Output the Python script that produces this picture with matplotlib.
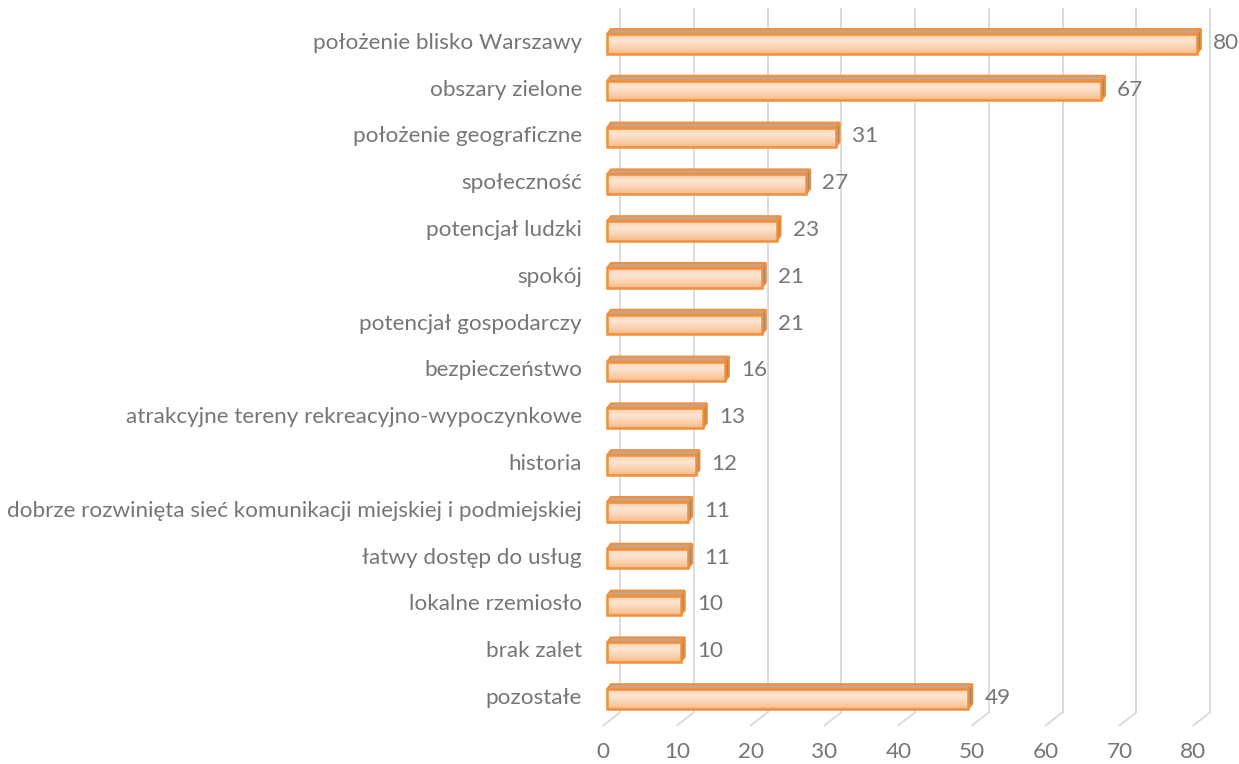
import numpy as np
import matplotlib.pyplot as plt
from matplotlib.patches import Polygon, Rectangle
from matplotlib.colors import LinearSegmentedColormap

plt.rcParams['font.family'] = ['Lato', 'DejaVu Sans']

# data
categories = [
    'położenie blisko Warszawy',
    'obszary zielone',
    'położenie geograficzne',
    'społeczność',
    'potencjał ludzki',
    'spokój',
    'potencjał gospodarczy',
    'bezpieczeństwo',
    'atrakcyjne tereny rekreacyjno-wypoczynkowe',
    'historia',
    'dobrze rozwinięta sieć komunikacji miejskiej i podmiejskiej',
    'łatwy dostęp do usług',
    'lokalne rzemiosło',
    'brak zalet',
    'pozostałe',
]
values = [80, 67, 31, 27, 23, 21, 21, 16, 13, 12, 11, 11, 10, 10, 49]
xticks = [0, 10, 20, 30, 40, 50, 60, 70, 80]

TEXT = '#767676'
EDGE = '#F0903A'
GRID = '#D9D9D9'
TOP = '#C9A288'
SIDE = '#8E8A86'
FS = 16.2

W, H = 1239, 764
fig = plt.figure(figsize=(W / 100, H / 100), dpi=100)
# axes: x=0..80 -> front plane of the bars, rows spaced evenly
ax = fig.add_axes([607 / W, 1 - 721.4 / H, 590 / W, 702 / H])
ax.axis('off')

# pixel -> data unit helpers for the 3D depth offsets
px_x = 80 / 590
px_y = 15 / 702
gdx = 13 * px_x                     # back wall
bdx, bdy = 4 * px_x, 5 * px_y       # bar depth
half = 9.8 * px_y

n = len(categories)
y_bot = n - 0.5 - 9 * px_y
y_top = -0.5 - 10 * px_y
for v in xticks:
    ax.plot([v + gdx, v + gdx], [y_top, y_bot], color=GRID, lw=1.3,
            clip_on=False, zorder=0)
    ax.plot([v + gdx, v - 0.5], [y_bot, y_bot + 13 * px_y], color=GRID,
            lw=1.3, clip_on=False, zorder=0)
    ax.text(v - 0.5, n - 0.5 + 31 * px_y, str(v), ha='center',
            va='center', fontsize=FS, color=TEXT)

cmap = LinearSegmentedColormap.from_list(
    'bar', ['#FBCDA8', '#FDE6D3', '#FBD3B2', '#F8BA88'])

for i, (cat, v) in enumerate(zip(categories, values)):
    t, b = i - half + 0.02, i + half + 0.02
    top = Polygon([(0, t), (v, t), (v + bdx, t - bdy), (bdx, t - bdy)],
                  closed=True, facecolor=TOP, edgecolor=EDGE, lw=1.4,
                  clip_on=False, zorder=2)
    side = Polygon([(v, t), (v + bdx, t - bdy), (v + bdx, b - bdy), (v, b)],
                   closed=True, facecolor=SIDE, edgecolor=EDGE, lw=1.4,
                   clip_on=False, zorder=2)
    ax.add_patch(top)
    ax.add_patch(side)
    im = ax.imshow(np.linspace(0, 1, 50).reshape(-1, 1), cmap=cmap,
                   aspect='auto', extent=(0, v, b, t), zorder=3,
                   interpolation='bilinear')
    rect = Rectangle((0, t), v, b - t, facecolor='none', edgecolor=EDGE,
                     lw=1.8, zorder=4, clip_on=False)
    ax.add_patch(rect)
    im.set_clip_path(rect)
    ax.text(v + 16 * px_x, i, str(v), ha='left', va='center', fontsize=FS,
            color=TEXT)
    ax.text(-25 * px_x, i, cat, ha='right', va='center', fontsize=FS,
            color=TEXT)

ax.set_xlim(0, 80)
ax.set_ylim(n - 0.5, -0.5)

fig.savefig('out.png', dpi=100)
